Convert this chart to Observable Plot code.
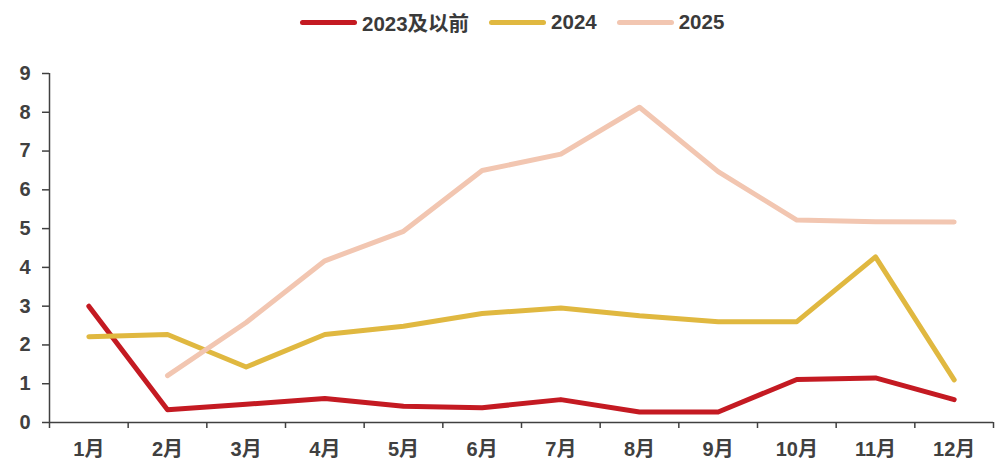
<!DOCTYPE html>
<html>
<head>
<meta charset="utf-8">
<script src="https://cdn.jsdelivr.net/npm/d3@7"></script>
<script src="https://cdn.jsdelivr.net/npm/@observablehq/plot@0.6"></script>
<style>
  html, body { margin: 0; padding: 0; background: #fff; }
  body { width: 1000px; height: 470px; overflow: hidden; font-family: "Liberation Sans", "Noto Sans CJK SC", sans-serif; }
  #legend { height: 44px; display: flex; align-items: center; justify-content: flex-start; padding-left: 300px; box-sizing: border-box; font-weight: bold; font-size: 20.5px; color: #3a3a3a; }
  .item { display: flex; align-items: center; margin-right: 20px; }
  .sw { width: 57px; height: 5px; border-radius: 3px; margin-right: 5px; }
</style>
</head>
<body>
<div id="legend"></div>
<div id="chart"></div>
<script>
const months = ["1月","2月","3月","4月","5月","6月","7月","8月","9月","10月","11月","12月"];
const seriesNames = ["2023及以前", "2024", "2025"];
const seriesColors = ["#C41A22", "#E0B840", "#F2C6B1"];
const v2023 = [3.0, 0.33, 0.47, 0.62, 0.42, 0.38, 0.59, 0.27, 0.27, 1.11, 1.15, 0.59];
const v2024 = [2.21, 2.27, 1.43, 2.27, 2.48, 2.81, 2.95, 2.75, 2.60, 2.60, 4.27, 1.10];
const v2025 = [null, 1.21, 2.58, 4.17, 4.93, 6.50, 6.92, 8.13, 6.47, 5.22, 5.18, 5.17];
const yTicks = [0,1,2,3,4,5,6,7,8,9];

const allSeries = [v2023, v2024, v2025];
const data = [];
allSeries.forEach((vals, s) => {
  vals.forEach((v, i) => {
    if (v !== null) data.push({series: seriesNames[s], idx: i + 0.5, value: v});
  });
});

// legend
const legend = document.getElementById("legend");
seriesNames.forEach((n, i) => {
  const it = document.createElement("div");
  it.className = "item";
  it.innerHTML = `<span class="sw" style="background:${seriesColors[i]}"></span><span>${n}</span>`;
  legend.appendChild(it);
});

const axisColor = "#404040";
const chart = Plot.plot({
  width: 1000,
  height: 426,
  marginTop: 29,
  marginBottom: 48,
  marginLeft: 49,
  marginRight: 7,
  style: {fontFamily: '"Liberation Sans", "Noto Sans CJK SC", sans-serif', fontSize: "20px", fontWeight: "bold", color: axisColor, background: "#fff"},
  x: {domain: [0, 12]},
  y: {domain: [0, 9]},
  color: {domain: seriesNames, range: seriesColors},
  marks: [
    Plot.axisY({ticks: yTicks, tickSize: 7, tickPadding: 12, label: null, stroke: axisColor, strokeWidth: 1.5, fill: axisColor, fontSize: 20}),
    Plot.axisX({ticks: d3.range(13), tickSize: 6, tickFormat: () => "", label: null, stroke: axisColor, strokeWidth: 1.5}),
    Plot.axisX({ticks: months.map((m, i) => i + 0.5), tickSize: 0, tickPadding: 19, tickFormat: d => months[Math.round(d - 0.5)], label: null, fill: axisColor, fontSize: 20}),
    Plot.line(data, {x: "idx", y: "value", z: "series", stroke: "series", strokeWidth: 5, strokeLinejoin: "round", strokeLinecap: "round"}),
    Plot.ruleX([0], {y1: 0, y2: 9, stroke: axisColor, strokeWidth: 1.5}),
    Plot.ruleY([0], {x1: 0, x2: 12, stroke: axisColor, strokeWidth: 1.5})
  ]
});
document.getElementById("chart").appendChild(chart);
</script>
</body>
</html>
